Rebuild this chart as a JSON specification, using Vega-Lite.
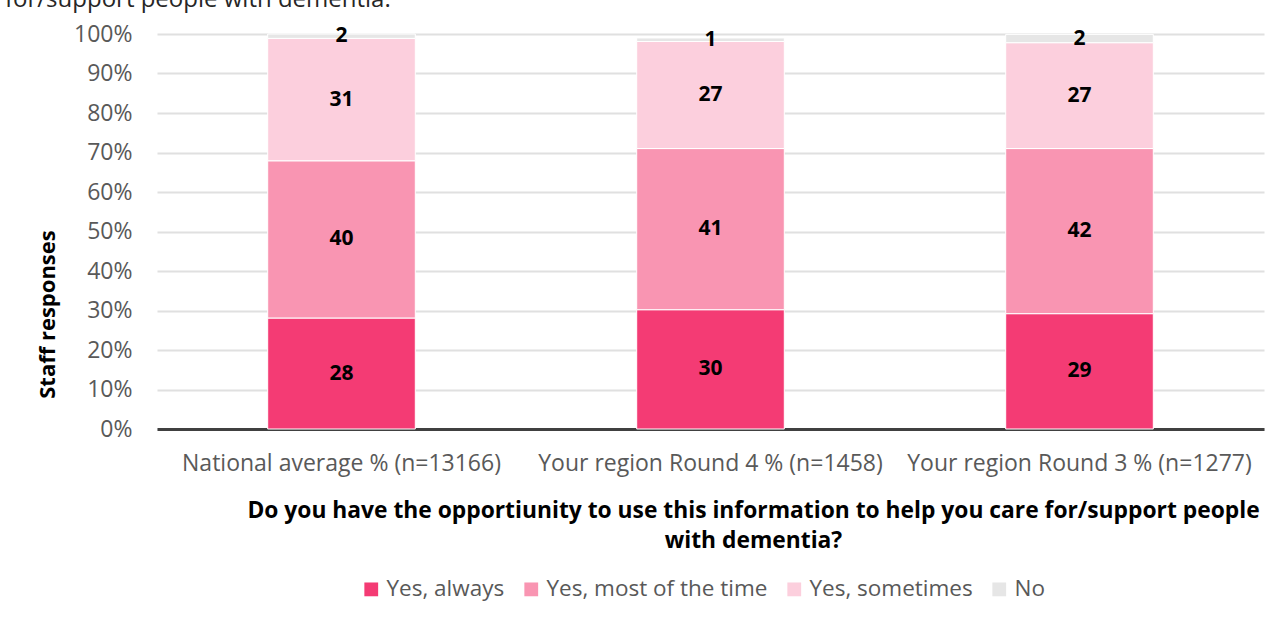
{
  "$schema": "https://vega.github.io/schema/vega-lite/v6.json",
  "width": 1107,
  "height": 395,
  "autosize": {"type": "none"},
  "padding": {"left": 157, "top": 34, "right": 18, "bottom": 214},
  "background": "white",
  "title": {
    "text": "for/support people with dementia.",
    "anchor": "start",
    "frame": "group",
    "dx": -152,
    "dy": 8,
    "offset": 0,
    "baseline": "alphabetic",
    "fontSize": 24,
    "fontWeight": "normal",
    "color": "#262626",
    "font": "Open Sans"
  },
  "config": {
    "font": "Open Sans",
    "view": {"stroke": null}
  },
  "data": {
    "values": [
      {"group": "National average % (n=13166)", "response": "Yes, always", "order": 1, "value": 28.1, "label": "28"},
      {"group": "National average % (n=13166)", "response": "Yes, most of the time", "order": 2, "value": 39.8, "label": "40"},
      {"group": "National average % (n=13166)", "response": "Yes, sometimes", "order": 3, "value": 31.0, "label": "31"},
      {"group": "National average % (n=13166)", "response": "No", "order": 4, "value": 1.1, "label": "2"},
      {"group": "Your region Round 4 % (n=1458)", "response": "Yes, always", "order": 1, "value": 30.2, "label": "30"},
      {"group": "Your region Round 4 % (n=1458)", "response": "Yes, most of the time", "order": 2, "value": 40.8, "label": "41"},
      {"group": "Your region Round 4 % (n=1458)", "response": "Yes, sometimes", "order": 3, "value": 27.1, "label": "27"},
      {"group": "Your region Round 4 % (n=1458)", "response": "No", "order": 4, "value": 0.9, "label": "1"},
      {"group": "Your region Round 3 % (n=1277)", "response": "Yes, always", "order": 1, "value": 29.2, "label": "29"},
      {"group": "Your region Round 3 % (n=1277)", "response": "Yes, most of the time", "order": 2, "value": 41.8, "label": "42"},
      {"group": "Your region Round 3 % (n=1277)", "response": "Yes, sometimes", "order": 3, "value": 26.8, "label": "27"},
      {"group": "Your region Round 3 % (n=1277)", "response": "No", "order": 4, "value": 2.1, "label": "2"}
    ]
  },
  "encoding": {
    "x": {
      "field": "group",
      "type": "nominal",
      "sort": ["National average % (n=13166)", "Your region Round 4 % (n=1458)", "Your region Round 3 % (n=1277)"],
      "scale": {"paddingInner": 0.6, "paddingOuter": 0.3},
      "axis": {
        "labelAngle": 0,
        "labelFontSize": 23,
        "labelColor": "#595959",
        "labelPadding": 23,
        "labelLimit": 0,
        "ticks": false,
        "domainColor": "#404040",
        "domainWidth": 3,
        "title": ["Do you have the opportiunity to use this information to help you care for/support people", "with dementia?"],
        "titleFontSize": 22.8,
        "titleFontWeight": "bold",
        "titleColor": "#000000",
        "titleLineHeight": 30,
        "titlePadding": 24,
        "titleX": 596
      }
    },
    "order": {"field": "order", "type": "quantitative"}
  },
  "layer": [
    {
      "mark": {"type": "bar", "stroke": "white", "strokeWidth": 1},
      "encoding": {
        "y": {
          "field": "value",
          "type": "quantitative",
          "stack": "zero",
          "scale": {"domain": [0, 100]},
          "axis": {
            "values": [0, 10, 20, 30, 40, 50, 60, 70, 80, 90, 100],
            "labelExpr": "datum.value + '%'",
            "labelOverlap": false,
            "labelFontSize": 23,
            "labelColor": "#595959",
            "labelPadding": 25,
            "ticks": false,
            "domain": false,
            "gridColor": "#e0e0e0",
            "gridWidth": 2,
            "title": "Staff responses",
            "titleFontSize": 22,
            "titleFontWeight": "bold",
            "titleColor": "#000000",
            "titleBaseline": "middle",
            "titleX": -110,
            "titleY": 280
          }
        },
        "color": {
          "field": "response",
          "type": "nominal",
          "scale": {
            "domain": ["Yes, always", "Yes, most of the time", "Yes, sometimes", "No"],
            "range": ["#f43b74", "#f995b2", "#fccfdd", "#e6e6e6"]
          },
          "legend": {
            "orient": "none",
            "legendX": 203,
            "legendY": 544,
            "direction": "horizontal",
            "title": null,
            "symbolType": "square",
            "symbolSize": 190,
            "symbolStrokeWidth": 0,
            "labelFontSize": 22.5,
            "labelColor": "#595959",
            "labelLimit": 0,
            "columnPadding": 15
          }
        }
      }
    },
    {
      "mark": {"type": "text", "fontSize": 21, "fontWeight": "bold", "color": "#000000", "baseline": "middle"},
      "encoding": {
        "y": {
          "field": "value",
          "type": "quantitative",
          "stack": "zero",
          "bandPosition": 0.5,
          "scale": {"domain": [0, 100]},
          "axis": {
            "values": [0, 10, 20, 30, 40, 50, 60, 70, 80, 90, 100],
            "labelExpr": "datum.value + '%'",
            "labelOverlap": false,
            "labelFontSize": 23,
            "labelColor": "#595959",
            "labelPadding": 25,
            "ticks": false,
            "domain": false,
            "gridColor": "#e0e0e0",
            "gridWidth": 2,
            "title": "Staff responses",
            "titleFontSize": 22,
            "titleFontWeight": "bold",
            "titleColor": "#000000",
            "titleBaseline": "middle",
            "titleX": -110,
            "titleY": 280
          }
        },
        "text": {"field": "label"}
      }
    }
  ]
}
